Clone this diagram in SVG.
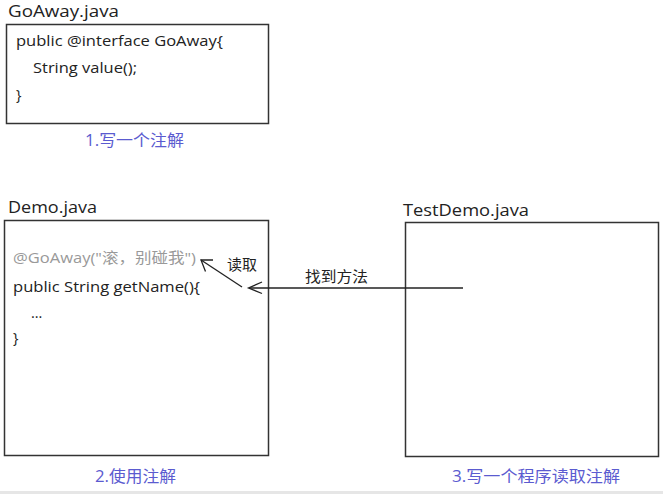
<svg xmlns="http://www.w3.org/2000/svg" width="663" height="494" viewBox="0 0 663 494">
<style>
.box{fill:#fff;stroke:#333;stroke-width:1.5}
.title{font-family:"Open Sans","Noto Sans",sans-serif;font-size:17px;fill:#222}
.code{font-family:"Open Sans","Noto Sans","Noto Sans CJK SC",sans-serif;font-size:14.5px;fill:#222}
.anno{fill:#999}
.cap{font-family:"Open Sans","Noto Sans CJK SC",sans-serif;font-size:16px;fill:#5b5bd0}
.lbl{font-family:"Noto Sans CJK SC",sans-serif;font-size:15px;fill:#222}
.ln{fill:none;stroke:#222;stroke-width:1.3}
</style>
<rect x="0" y="0" width="663" height="494" fill="#fff"/>
<rect x="0" y="491" width="663" height="3" fill="#e6e6e6"/>
<g id="goaway">
<text class="title" x="8" y="17" textLength="111" lengthAdjust="spacingAndGlyphs">GoAway.java</text>
<rect class="box" x="6.5" y="24.5" width="262" height="99"/>
<text class="code" x="16" y="46" textLength="207" lengthAdjust="spacingAndGlyphs">public @interface GoAway{</text>
<text class="code" x="33" y="73" textLength="104" lengthAdjust="spacingAndGlyphs">String value();</text>
<text class="code" x="16" y="100">}</text>
<text class="cap" x="85" y="146" textLength="99" lengthAdjust="spacingAndGlyphs">1.写一个注解</text>
</g>
<g id="demo">
<text class="title" x="8" y="213" textLength="89" lengthAdjust="spacingAndGlyphs">Demo.java</text>
<rect class="box" x="4.5" y="220.5" width="264" height="235"/>
<text class="code anno" x="13" y="263" textLength="183" lengthAdjust="spacingAndGlyphs">@GoAway("滚，别碰我")</text>
<text class="code" x="13" y="292" textLength="187" lengthAdjust="spacingAndGlyphs">public String getName(){</text>
<text class="code" x="31" y="318">...</text>
<text class="code" x="13" y="343">}</text>
<text class="cap" x="95" y="482" textLength="81" lengthAdjust="spacingAndGlyphs">2.使用注解</text>
</g>
<g id="testdemo">
<text class="title" x="403" y="216" textLength="126" lengthAdjust="spacingAndGlyphs">TestDemo.java</text>
<rect class="box" x="405.5" y="222.5" width="253" height="234"/>
<text class="cap" x="452" y="482" textLength="168" lengthAdjust="spacingAndGlyphs">3.写一个程序读取注解</text>
</g>
<g id="connectors">
<path class="ln" d="M463,288 H249"/>
<path class="ln" d="M262,282 L248.5,288 L262,293.5"/>
<path class="ln" d="M242,287 L201,260"/>
<path class="ln" d="M213,260 L201,260 L205.5,271.5"/>
<text class="lbl" x="227" y="270" textLength="30" lengthAdjust="spacingAndGlyphs">读取</text>
<text class="lbl" x="305" y="282" textLength="63" lengthAdjust="spacingAndGlyphs">找到方法</text>
</g>
</svg>
